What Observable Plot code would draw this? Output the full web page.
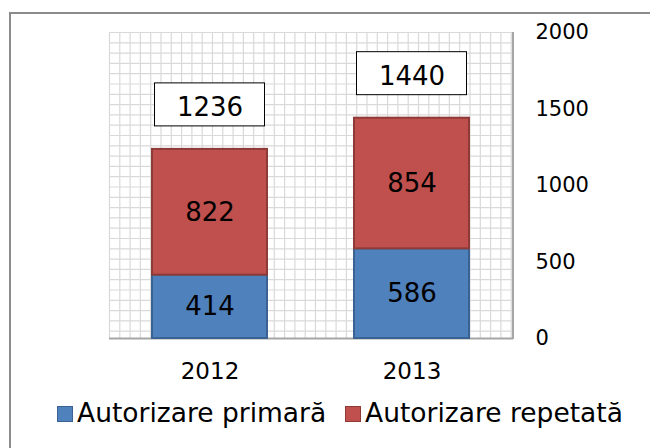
<!DOCTYPE html>
<html>
<head>
<meta charset="utf-8">
<script src="https://cdn.jsdelivr.net/npm/d3@7"></script>
<script src="https://cdn.jsdelivr.net/npm/@observablehq/plot@0.6"></script>
<style>
  html, body { margin: 0; padding: 0; background: #fff; overflow: hidden; }
  #wrap { position: relative; width: 650px; height: 448px; overflow: hidden; font-family: "DejaVu Sans", Verdana, sans-serif; }
  #frame { position: absolute; left: 9px; top: 12px; width: 800px; height: 600px; border-left: 2px solid #8c8c8c; border-top: 2px solid #8c8c8c; box-sizing: border-box; }
  #chart { position: absolute; left: 0; top: 0; }
  .sw { position: absolute; width: 16px; height: 16px; box-sizing: border-box; }
  .lt { position: absolute; font-size: 26.5px; line-height: 26.5px; white-space: nowrap; color: #000; }
</style>
</head>
<body>
<div id="wrap">
  <div id="frame"></div>
  <div id="chart"></div>
  <div id="legend"></div>
</div>
<script>
const years = ["2012", "2013"];
const primara = [414, 586];
const repetata = [822, 854];
const totals = [1236, 1440];
const seriesNames = ["Autorizare primară", "Autorizare repetată"];
const seriesFill = ["#4F81BD", "#C0504D"];
const seriesStroke = ["#3A6393", "#8E3B38"];
const yTicks = [0, 500, 1000, 1500, 2000];

const rows = [];
years.forEach((yr, i) => {
  rows.push({year: yr, series: seriesNames[0], value: primara[i]});
  rows.push({year: yr, series: seriesNames[1], value: repetata[i]});
});
const totalRows = years.map((yr, i) => ({year: yr, total: totals[i]}));

const cell = 10.3;
function gridMark(index, scales, values, dims) {
  const g = d3.create("svg:g").attr("stroke", "#d9d9d9").attr("stroke-width", 1.2);
  const x0 = dims.marginLeft, x1 = dims.width - dims.marginRight;
  const y0 = dims.marginTop, y1 = dims.height - dims.marginBottom;
  for (let x = x0 + 0.5; x < x1; x += cell) g.append("line").attr("x1", x).attr("x2", x).attr("y1", y0).attr("y2", y1);
  for (let y = y0 + 0.5; y < y1; y += cell) g.append("line").attr("x1", x0).attr("x2", x1).attr("y1", y).attr("y2", y);
  return g.node();
}

const chart = Plot.plot({
  width: 650,
  height: 448,
  marginTop: 32,
  marginBottom: 110,
  marginLeft: 109,
  marginRight: 137,
  style: {fontFamily: "'DejaVu Sans', Verdana, sans-serif", background: "transparent", overflow: "visible"},
  x: {domain: years, paddingInner: 0.43, paddingOuter: 0.215, label: null},
  y: {domain: [0, 2000], label: null},
  color: {domain: seriesNames, range: seriesFill},
  marks: [
    gridMark,
    Plot.ruleY([0], {stroke: "#a6a6a6", strokeWidth: 2}),
    Plot.barY(rows, Plot.stackY({
      x: "year", y: "value", fill: "series",
      stroke: d => seriesStroke[seriesNames.indexOf(d.series)], strokeWidth: 2
    })),
    Plot.text(rows, Plot.stackY({
      x: "year", y: "value", text: d => String(d.value), fontSize: 26, fill: "#000"
    })),
    Plot.barY(totalRows, {x: "year", y1: "total", y2: "total", fill: "#fff", stroke: "#000", strokeWidth: 1,
      insetTop: -66, insetBottom: 23, insetLeft: 2.5, insetRight: 2.5}),
    Plot.text(totalRows, {x: "year", y: "total", text: d => String(d.total), dy: -42, fontSize: 26, fill: "#000"}),
    Plot.axisY({anchor: "right", ticks: yTicks, tickSize: 0, tickPadding: 22, fontSize: 21, tickFormat: d => String(d), textAnchor: "start", fill: "#000"}),
    Plot.axisX({anchor: "bottom", tickSize: 0, tickPadding: 24, fontSize: 23, fill: "#000"})
  ]
});

// right border of plot area
d3.select(chart).append("line")
  .attr("x1", 513).attr("x2", 513).attr("y1", 32).attr("y2", 339)
  .attr("stroke", "#a6a6a6").attr("stroke-width", 2);

document.getElementById("chart").appendChild(chart);

const legend = document.getElementById("legend");
const legendPos = [{sx: 57, tx: 77}, {sx: 345, tx: 365}];
seriesNames.forEach((name, i) => {
  const sw = document.createElement("span");
  sw.className = "sw";
  sw.style.left = legendPos[i].sx + "px";
  sw.style.top = "406px";
  sw.style.background = seriesFill[i];
  sw.style.border = "1px solid " + seriesStroke[i];
  legend.appendChild(sw);
  const t = document.createElement("span");
  t.className = "lt";
  t.style.left = legendPos[i].tx + "px";
  t.style.top = "400px";
  t.textContent = name;
  legend.appendChild(t);
});
</script>
</body>
</html>
